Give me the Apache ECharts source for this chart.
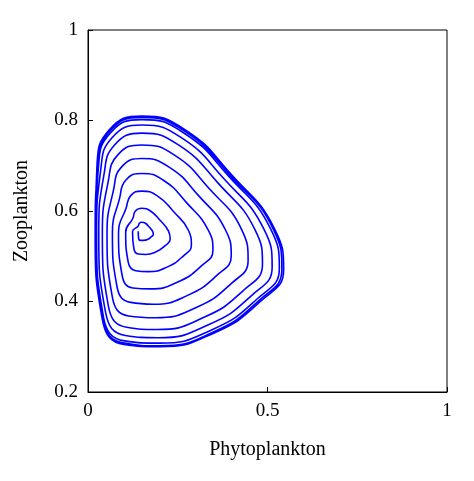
<!DOCTYPE html>
<html>
<head>
<meta charset="utf-8">
<script src="https://cdn.jsdelivr.net/npm/echarts@6/dist/echarts.min.js"></script>
<style>html,body{margin:0;padding:0;background:#fff}#chart{width:474px;height:481px}</style>
</head>
<body>
<div id="chart"></div>
<script>
// trajectory, loop by loop, from the inner spiral outward
var loop1 = [[0.140,0.555],[0.141,0.539],[0.146,0.535],[0.154,0.535],[0.166,0.537],[0.176,0.543],[0.182,0.548],[0.180,0.555],[0.170,0.565],[0.160,0.573],[0.150,0.575],[0.143,0.573],[0.140,0.567]];
var loop2 = [[0.124,0.554],[0.128,0.516],[0.140,0.505],[0.160,0.504],[0.190,0.510],[0.216,0.524],[0.229,0.538],[0.224,0.556],[0.200,0.580],[0.174,0.600],[0.150,0.606],[0.132,0.600],[0.125,0.584]];
var loop3 = [[0.105,0.553],[0.112,0.487],[0.133,0.468],[0.168,0.466],[0.220,0.476],[0.266,0.501],[0.288,0.525],[0.280,0.557],[0.238,0.599],[0.192,0.634],[0.150,0.644],[0.119,0.634],[0.106,0.606]];
var loop4 = [[0.085,0.553],[0.095,0.458],[0.125,0.430],[0.175,0.428],[0.250,0.443],[0.315,0.478],[0.348,0.513],[0.335,0.558],[0.275,0.618],[0.210,0.668],[0.150,0.683],[0.105,0.668],[0.088,0.628]];
var loop5 = [[0.068,0.552],[0.081,0.432],[0.119,0.398],[0.182,0.394],[0.276,0.413],[0.358,0.457],[0.399,0.501],[0.383,0.558],[0.308,0.634],[0.226,0.697],[0.150,0.716],[0.093,0.697],[0.071,0.646]];
var loop6 = [[0.053,0.551],[0.068,0.409],[0.113,0.368],[0.188,0.364],[0.300,0.386],[0.398,0.439],[0.446,0.491],[0.428,0.559],[0.338,0.649],[0.240,0.724],[0.150,0.746],[0.083,0.724],[0.056,0.664]];
var loop7 = [[0.040,0.551],[0.057,0.389],[0.108,0.343],[0.193,0.338],[0.320,0.364],[0.431,0.423],[0.486,0.483],[0.465,0.559],[0.363,0.661],[0.252,0.746],[0.150,0.772],[0.074,0.746],[0.044,0.678]];
var loop8 = [[0.030,0.550],[0.049,0.376],[0.104,0.325],[0.196,0.320],[0.334,0.348],[0.454,0.412],[0.513,0.477],[0.490,0.560],[0.380,0.670],[0.260,0.762],[0.150,0.790],[0.067,0.762],[0.035,0.688]];
var loop9 = [[0.024,0.550],[0.043,0.366],[0.102,0.313],[0.199,0.308],[0.344,0.337],[0.470,0.405],[0.533,0.473],[0.509,0.560],[0.393,0.676],[0.266,0.773],[0.150,0.802],[0.063,0.773],[0.029,0.696]];
var loop10 = [[0.022,0.550],[0.041,0.362],[0.101,0.308],[0.200,0.302],[0.348,0.332],[0.476,0.402],[0.540,0.471],[0.516,0.560],[0.397,0.678],[0.268,0.777],[0.150,0.807],[0.061,0.777],[0.027,0.698]];
var loop11 = [[0.020,0.550],[0.040,0.360],[0.100,0.305],[0.200,0.300],[0.350,0.330],[0.480,0.400],[0.545,0.470],[0.520,0.560],[0.400,0.680],[0.270,0.780],[0.150,0.810],[0.060,0.780],[0.025,0.700],[0.020,0.550]];
var xTicks = [0, 0.5, 1];
var yTicks = [0.2, 0.4, 0.6, 0.8, 1];

var path = [].concat(loop1, loop2, loop3, loop4, loop5, loop6, loop7, loop8, loop9, loop10, loop11);
var font = 'Liberation Serif';

var chart = echarts.init(document.getElementById('chart'));
option = {
    animation: false,
    grid: {
        left: 88, right: 27, top: 30, bottom: 89,
        show: true, borderColor: '#000', borderWidth: 1
    },
    xAxis: {
        type: 'value', min: 0, max: 1, interval: 0.5,
        name: 'Phytoplankton', nameLocation: 'middle', nameGap: 48,
        nameTextStyle: {fontFamily: font, fontSize: 20, color: '#000'},
        axisLine: {lineStyle: {color: '#000'}},
        axisTick: {inside: true, length: 5, lineStyle: {color: '#000'}},
        axisLabel: {fontFamily: font, fontSize: 19, color: '#000', margin: 10},
        splitLine: {show: false}
    },
    yAxis: {
        type: 'value', min: 0.2, max: 1, interval: 0.2,
        name: 'Zooplankton', nameLocation: 'middle', nameGap: 56,
        nameTextStyle: {fontFamily: font, fontSize: 20, color: '#000'},
        axisLine: {show: true, lineStyle: {color: '#000'}},
        axisTick: {inside: true, length: 5, lineStyle: {color: '#000'}},
        axisLabel: {fontFamily: font, fontSize: 19, color: '#000', margin: 10,
            formatter: function (v) { return yTicks.indexOf(+v.toFixed(1)) >= 0 ? +v.toFixed(1) + '' : ''; }},
        splitLine: {show: false}
    },
    series: [{
        type: 'line',
        data: path,
        smooth: 0.5,
        showSymbol: false,
        lineStyle: {color: '#0000ff', width: 1.6}
    }]
};
chart.setOption(option);
</script>
</body>
</html>
